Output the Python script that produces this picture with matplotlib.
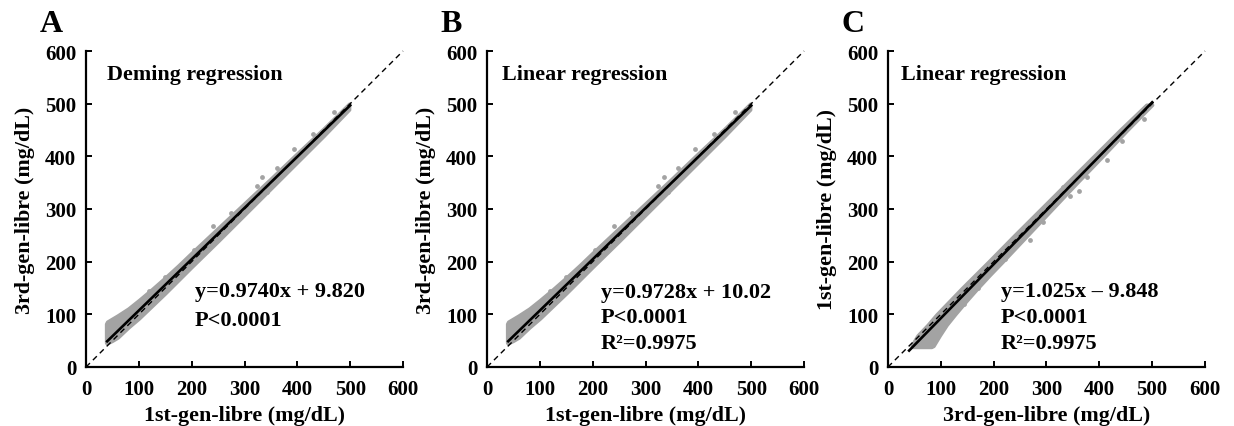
import matplotlib
matplotlib.use("Agg")
import matplotlib.pyplot as plt
import numpy as np

plt.rcParams['font.family'] = ['Liberation Serif', 'DejaVu Serif']
plt.rcParams['font.weight'] = 'bold'

# =========================================================
# DATA
# =========================================================
# dense cloud of 1st-gen (x) vs 3rd-gen (y): band edges
band_x = [38, 40, 50, 60, 80, 100, 125, 150, 175, 200, 250, 300, 350, 400, 450, 498]
band_hi = [82, 86, 92, 98, 111, 127, 148, 170, 193, 217, 264, 311, 358, 406, 453, 500]
band_lo = [46, 45, 50, 56, 75, 92, 116, 140, 165, 190, 239, 289, 339, 389, 439, 489]

# scattered points outside the band (1st-gen, 3rd-gen)
out_x = [241, 324, 334, 342, 361, 393, 150, 275, 470, 120, 205, 430]
out_y = [268, 344, 361, 332, 377, 414, 170, 293, 484, 144, 222, 442]

panel_letters = ['A', 'B', 'C']
panel_titles = ['Deming regression', 'Linear regression', 'Linear regression']
slopes = [0.9740, 0.9728, 1.025]
intercepts = [9.820, 10.02, -9.848]
fit_range = [40, 500]
stats_text = [
    ['y=0.9740x + 9.820', 'P<0.0001'],
    ['y=0.9728x + 10.02', 'P<0.0001', 'R\u00b2=0.9975'],
    ['y=1.025x \u2013 9.848', 'P<0.0001', 'R\u00b2=0.9975'],
]
x_labels = ['1st-gen-libre (mg/dL)', '1st-gen-libre (mg/dL)', '3rd-gen-libre (mg/dL)']
y_labels = ['3rd-gen-libre (mg/dL)', '3rd-gen-libre (mg/dL)', '1st-gen-libre (mg/dL)']
ticks = [0, 100, 200, 300, 400, 500, 600]

# =========================================================
# FIGURE
# =========================================================
fig = plt.figure(figsize=(12.34, 4.27), dpi=100)

lefts = [0.0697, 0.3947, 0.7196]
text_x = [40, 29, 25]
stat_x = [206, 215, 214]
stat_y = [[144, 89], [142, 94, 46], [144, 94, 46]]
gray = '#a3a3a3'

for i in range(3):
    ax = fig.add_axes([lefts[i], 0.1382, 0.2569, 0.740])

    if i < 2:
        ax.fill_between(band_x, band_lo, band_hi, facecolor=gray,
                        edgecolor=gray, lw=2.5, zorder=1)
        ax.scatter(out_x, out_y, s=12, color=gray, lw=0, zorder=1)
    else:
        # swapped axes: mirror of the same data
        ax.fill_betweenx(band_x, band_lo, band_hi, facecolor=gray,
                         edgecolor=gray, lw=2.5, zorder=1)
        ax.scatter(out_y, out_x, s=12, color=gray, lw=0, zorder=1)

    fx = np.array(fit_range)
    ax.plot(fx, slopes[i] * fx + intercepts[i], color='black', lw=1.9, zorder=3)
    ax.plot([0, 600], [0, 600], color='black', lw=1.0, ls=(0, (4, 3)),
            zorder=2, clip_on=False)

    ax.set_xlim(0, 600)
    ax.set_ylim(0, 600)
    ax.set_xticks(ticks)
    ax.set_yticks(ticks)
    ax.spines['top'].set_visible(False)
    ax.spines['right'].set_visible(False)
    ax.spines['left'].set_linewidth(1.6)
    ax.spines['bottom'].set_linewidth(1.6)
    ax.tick_params(direction='in', length=4, width=1.4, labelsize=15)
    ax.tick_params(axis='x', pad=9)
    ax.tick_params(axis='y', pad=7)
    for lab in ax.get_xticklabels() + ax.get_yticklabels():
        lab.set_fontweight('bold')

    ax.set_xlabel(x_labels[i], fontsize=15.8, fontweight='bold', labelpad=4)
    ax.set_ylabel(y_labels[i], fontsize=15.8, fontweight='bold', labelpad=7)

    ax.text(text_x[i], 557, panel_titles[i], fontsize=15.8, fontweight='bold',
            va='center', ha='left')
    for txt, yy in zip(stats_text[i], stat_y[i]):
        ax.text(stat_x[i], yy, txt, fontsize=16, fontweight='bold',
                va='center', ha='left')

    fig.text(lefts[i] - 0.0375, 0.943, panel_letters[i], fontsize=23,
             fontweight='bold', va='center', ha='left')

fig.savefig("out.png", dpi=100)
plt.close()
